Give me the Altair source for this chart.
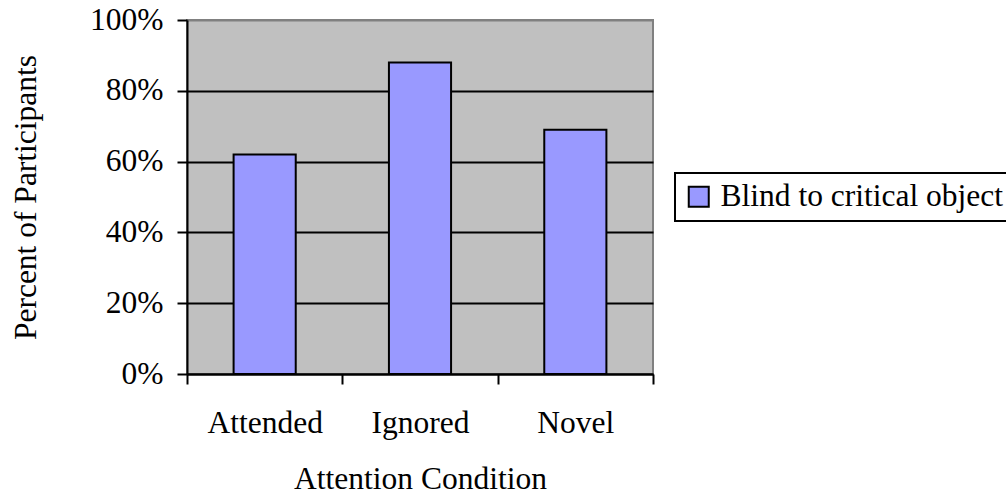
import altair as alt
import pandas as pd

# Share of participants who missed the critical object, per attention condition
conditions = ["Attended", "Ignored", "Novel"]
blind_share = [0.62, 0.88, 0.69]
series_name = ["Blind to critical object"] * len(conditions)
y_ticks = [0.0, 0.2, 0.4, 0.6, 0.8, 1.0]

df = pd.DataFrame({
    "condition": conditions,
    "share": blind_share,
    "series": series_name,
})

FONT = "Liberation Serif"
FS = 31.5

chart = (
    alt.Chart(df)
    .mark_bar(stroke="black", strokeWidth=2, width=alt.RelativeBandSize(0.4))
    .encode(
        x=alt.X(
            "condition:N",
            sort=conditions,
            scale=alt.Scale(paddingInner=0, paddingOuter=0),
            axis=alt.Axis(
                title="Attention Condition",
                labelAngle=0,
                tickBand="extent",
                labelBaseline="alphabetic",
                labelPadding=48,
                titleBaseline="alphabetic",
                titleY=114,
            ),
        ),
        y=alt.Y(
            "share:Q",
            scale=alt.Scale(domain=[0, 1], nice=False),
            axis=alt.Axis(
                title="Percent of Participants",
                values=y_ticks,
                format=".0%",
                labelPadding=14,
                titleAngle=270,
                titleBaseline="alphabetic",
                titleX=-152,
                titleY=177,
                grid=True,
                gridColor={"condition": {"test": "datum.value >= 1", "value": "#808080"}, "value": "black"},
                gridWidth=2,
            ),
        ),
        color=alt.Color(
            "series:N",
            scale=alt.Scale(range=["#9999FF"]),
            legend=alt.Legend(
                title=None,
                orient="none",
                legendX=488,
                legendY=153,
                symbolType="square",
                symbolSize=400,
                symbolStrokeColor="black",
                symbolStrokeWidth=2,
                symbolOpacity=1,
                labelOffset=6,
                padding=8,
                strokeColor="black",
            ),
        ),
    )
    .properties(
        width=466,
        height=354,
        autosize=alt.AutoSizeParams(type="none"),
        padding={"left": 187, "top": 20, "right": 353, "bottom": 120},
    )
    .configure(background="white")
    .configure_view(fill="#C0C0C0", stroke="#808080", strokeWidth=2)
    .configure_axis(
        labelFont=FONT,
        labelFontSize=FS,
        labelColor="black",
        titleFont=FONT,
        titleFontSize=FS,
        titleFontWeight="normal",
        titleColor="black",
        domainColor="black",
        domainWidth=2,
        tickColor="black",
        tickWidth=2,
        tickSize=10,
    )
    .configure_axisX(grid=False)
    .configure_legend(
        labelFont=FONT,
        labelFontSize=FS,
        labelColor="black",
        labelLimit=0,
        strokeWidth=2,
    )
)

chart.save("out.html", embed_options={"renderer": "svg", "actions": False})
